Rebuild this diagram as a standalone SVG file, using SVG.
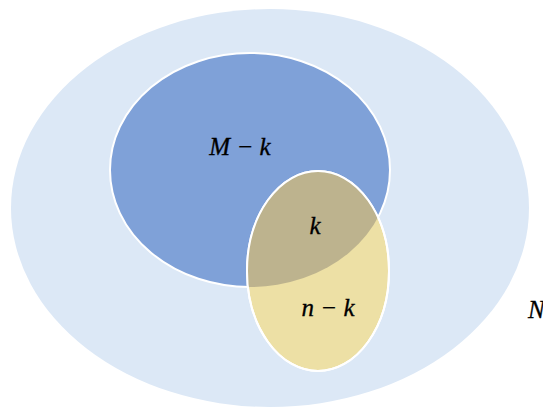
<svg xmlns="http://www.w3.org/2000/svg" width="543" height="408" viewBox="0 0 543 408">
<style>
.lbl{font-family:"Liberation Serif","DejaVu Serif",serif;font-style:italic;font-size:25px;fill:#000;stroke:#000;stroke-width:0.3;text-anchor:middle}
.edge{stroke:#ffffff;stroke-width:2}
</style>
<defs>
<clipPath id="clipBlue"><ellipse cx="250" cy="170" rx="140" ry="117"/></clipPath>
</defs>
<rect width="543" height="408" fill="#ffffff"/>
<g id="universe">
<ellipse cx="270" cy="208" rx="259" ry="199" fill="#dce8f6"/>
</g>
<g id="setM">
<ellipse class="edge" cx="250" cy="170" rx="140" ry="117" fill="#7fa1d8"/>
</g>
<g id="setN">
<ellipse class="edge" cx="318" cy="271" rx="71" ry="100" fill="#ede0a5"/>
<ellipse cx="318" cy="271" rx="71" ry="100" fill="#bdb38e" clip-path="url(#clipBlue)"/>
<ellipse cx="318" cy="271" rx="71" ry="100" fill="none" stroke="#ffffff" stroke-width="2"/>
</g>
<g id="labels">
<text class="lbl" x="240" y="155">M − k</text>
<text class="lbl" x="315" y="234">k</text>
<text class="lbl" x="328" y="316">n − k</text>
<text class="lbl" x="528" y="318" style="text-anchor:start">N</text>
</g>
</svg>
